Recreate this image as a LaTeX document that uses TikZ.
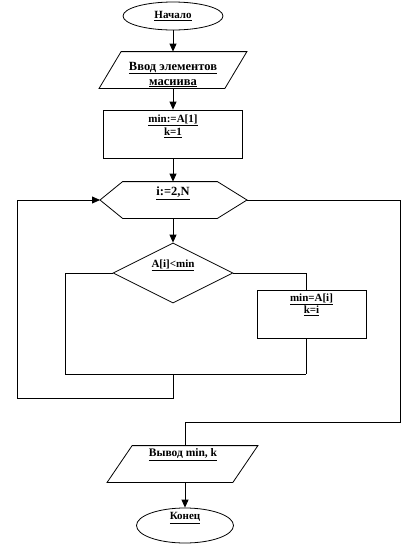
\documentclass[tikz,border=0pt]{standalone}
\usepackage{fontspec}
\setmainfont{Liberation Serif}
\usetikzlibrary{arrows.meta,shapes.geometric}
\begin{document}
\begin{tikzpicture}[x=1pt,y=-1pt, line width=0.8pt,
  txt/.style={font=\bfseries\fontsize{11}{13}\selectfont, inner sep=0pt, align=center},
  arr/.style={-{Triangle[length=8pt,width=7pt]}},
  box/.style={draw, inner sep=0pt},
  blank/.style={inner sep=0pt}
]
\useasboundingbox (0,0) rectangle (409,555);

% start
\node[box, ellipse, minimum width=100pt, minimum height=28pt, txt] (start) at (173,16) {\underline{Начало}};

% input
\node[blank, minimum width=125pt, minimum height=36pt] (in) at (173,70) {};
\draw ([xshift=11pt]in.north west) -- ([xshift=11pt]in.north east) -- ([xshift=-11pt]in.south east) -- ([xshift=-11pt]in.south west) -- cycle;
\node[txt, font=\bfseries\fontsize{12.5}{15}\selectfont] (tin) at (173,74.5) {\underline{Ввод элементов}\\\underline{масиива}};

% init box
\node[box, minimum width=139pt, minimum height=48pt] (r1) at (173,134) {};
\node[txt, font=\bfseries\fontsize{11}{13}\selectfont] (tr1) at (173,126) {\underline{min:=A[1]}\\\underline{k=1}};

% loop hexagon
\node[blank, minimum width=94pt, minimum height=36pt] (hex) at (170,200) {};
\coordinate (hexL) at (100,200);
\coordinate (hexR) at (247,200);
\draw (hex.north west) -- (hex.north east) -- (hexR) -- (hex.south east) -- (hex.south west) -- (hexL) -- cycle;
\node[txt, font=\bfseries\fontsize{12.5}{15}\selectfont] (thex) at (173,193) {\underline{i:=2,N}};

% condition
\node[box, diamond, aspect=2, minimum width=120pt, minimum height=60pt] (dia) at (173,273) {};
\node[txt] (tdia) at (173,265) {\underline{A[i]<min}};

% assignment box
\node[box, minimum width=109pt, minimum height=48pt] (r2) at (311.5,314) {};
\node[txt, font=\bfseries\fontsize{11}{12}\selectfont] (tr2) at (311.5,305) {\underline{min=A[i]}\\\underline{k=i}};

% output
\node[blank, minimum width=125pt, minimum height=36pt] (out) at (182.5,464) {};
\draw ([xshift=12.5pt]out.north west) -- ([xshift=12.5pt]out.north east) -- ([xshift=-12.5pt]out.south east) -- ([xshift=-12.5pt]out.south west) -- cycle;
\node[txt, font=\bfseries\fontsize{11.5}{13}\selectfont] (tout) at (183,455) {\underline{Вывод min, k}};

% end
\node[box, ellipse, minimum width=97pt, minimum height=35pt] (fin) at (185,525.5) {};
\node[txt] (tfin) at (185,518) {\underline{Конец}};

% connectors
\draw[arr] (start.south) -- (start.south |- in.north);
\draw[arr] (in.south) -- (in.south |- r1.north);
\draw[arr] (r1.south) -- (r1.south |- hex.north);
\draw[arr] (r1.south |- hex.south) -- (dia.north);

\coordinate (jl) at (65,374);
\coordinate (jr) at (306,374);
\coordinate (jm) at (173,374);
\coordinate (lb) at (17,398);
\coordinate (rb) at (400,422);

\draw (dia.west) -| (jl) -- (jr);
\draw (dia.east) -| ([xshift=-5.5pt]r2.north);
\draw ([xshift=-5.5pt]r2.south) -- (jr);
\draw[arr] (jm) |- (lb) |- (hexL);
\draw (hexR) -| (rb) -| ([xshift=2.5pt]out.north);
\draw[arr] ([xshift=2.5pt]out.south) -- (fin.north);
\end{tikzpicture}
\end{document}
